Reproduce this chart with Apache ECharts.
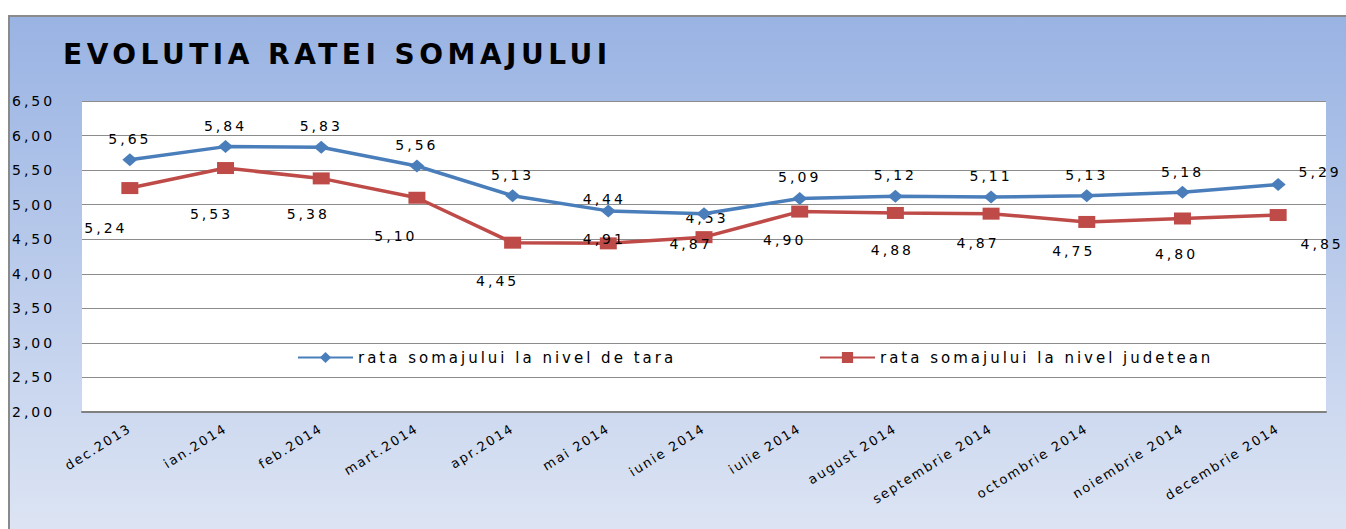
<!DOCTYPE html>
<html>
<head>
<meta charset="utf-8">
<title>Evolutia ratei somajului</title>
<script src="https://cdn.jsdelivr.net/npm/echarts@6/dist/echarts.min.js"></script>
<style>
  html, body { margin: 0; padding: 0; background: #fff; }
  .wrap { position: relative; width: 1346px; height: 529px; overflow: hidden; }
  /* fundal cu degrade ca in Excel */
  .bg {
    position: absolute; left: 8px; top: 15px; width: 1400px; height: 560px;
    border-left: 2px solid #8a8a8a; border-top: 2px solid #8a8a8a;
    background: linear-gradient(to bottom, #99b3e3 0%, #e3e9f5 100%);
  }
  #main { position: absolute; left: 0; top: 0; width: 1346px; height: 529px; }
  #main svg text { letter-spacing: 3px; }
  #main svg text[style*="13px"] { letter-spacing: 1.8px; }
  #main svg text[style*="bold"] { letter-spacing: 4.5px; }
</style>
</head>
<body>
<div class="wrap">
  <div class="bg"></div>
  <div id="main"></div>
</div>
<script>
// luni
var luni = ['dec.2013', 'ian.2014', 'feb.2014', 'mart.2014', 'apr.2014', 'mai 2014', 'iunie 2014',
  'iulie 2014', 'august 2014', 'septembrie 2014', 'octombrie 2014', 'noiembrie 2014', 'decembrie 2014']
// rata somajului la nivel de tara
var rataTara = [5.65, 5.84, 5.83, 5.56, 5.13, 4.91, 4.87, 5.09, 5.12, 5.11, 5.13, 5.18, 5.29]
// rata somajului la nivel judetean
var rataJudet = [5.24, 5.53, 5.38, 5.10, 4.45, 4.44, 4.53, 4.90, 4.88, 4.87, 4.75, 4.80, 4.85]

// pozitia etichetelor fata de punct (mutate manual ca in original)
var offTara = [[0, -21], [0, -21], [0, -21], [0, -21], [0, -21], [-4, 28], [-13, 30],
  [0, -21], [0, -21], [0, -21], [0, -21], [0, -20], [42, -13]]
var offJudet = [[-24, 40], [-14, 46], [-13, 36], [-21, 38], [-15, 38], [-4, -44], [3, -19],
  [-15, 28], [-3, 37], [-13, 29], [-13, 29], [-6, 36], [44, 29]]

var FONT = 'DejaVu Sans'

function fmt(v) {
  return Number(v).toFixed(2).replace('.', ',')
}

function puncte(vals, offs) {
  return vals.map(function (v, i) {
    return { value: v, label: { offset: offs[i] } }
  })
}

var chart = echarts.init(document.getElementById('main'), null, { renderer: 'svg' })

var option = {
  backgroundColor: 'transparent',
  animation: false,
  title: {
    text: 'EVOLUTIA RATEI SOMAJULUI',
    left: 63,
    top: 40,
    padding: 0,
    textStyle: { fontFamily: FONT, fontSize: 28, fontWeight: 'bold', color: '#000' }
  },
  legend: [
    {
      data: ['rata somajului la nivel de tara'],
      left: 292,
      top: 345,
      itemWidth: 55,
      itemHeight: 14,
      textStyle: { fontFamily: FONT, fontSize: 15, color: '#000' }
    },
    {
      data: ['rata somajului la nivel judetean'],
      left: 814,
      top: 345,
      itemWidth: 55,
      itemHeight: 14,
      textStyle: { fontFamily: FONT, fontSize: 15, color: '#000' }
    }
  ],
  grid: {
    left: 82,
    right: 20,
    top: 101,
    bottom: 117,
    show: true,
    backgroundColor: '#fff',
    borderWidth: 0
  },
  xAxis: {
    type: 'category',
    data: luni,
    boundaryGap: true,
    axisLine: { lineStyle: { color: '#808080', width: 2 } },
    axisTick: { show: false },
    axisLabel: {
      rotate: 32,
      interval: 0,
      margin: 15,
      fontFamily: FONT,
      fontSize: 13,
      color: '#000'
    }
  },
  yAxis: {
    type: 'value',
    min: 2,
    max: 6.5,
    interval: 0.5,
    axisLine: { show: false },
    axisTick: { show: false },
    splitLine: { lineStyle: { color: '#8c8c8c', width: 1 } },
    axisLabel: {
      align: 'left',
      margin: 70,
      fontFamily: FONT,
      fontSize: 14,
      color: '#000',
      formatter: fmt
    }
  },
  series: [
    {
      name: 'rata somajului la nivel de tara',
      type: 'line',
      data: puncte(rataTara, offTara),
      symbol: 'diamond',
      symbolSize: [15, 13],
      lineStyle: { color: '#4a7ebb', width: 3.5 },
      itemStyle: { color: '#4a7ebb' },
      label: {
        show: true,
        position: 'inside',
        fontFamily: FONT,
        fontSize: 14,
        color: '#000',
        formatter: function (p) { return fmt(p.value) }
      },
      z: 3
    },
    {
      name: 'rata somajului la nivel judetean',
      type: 'line',
      data: puncte(rataJudet, offJudet),
      symbol: 'rect',
      symbolSize: [17, 12],
      lineStyle: { color: '#be4b48', width: 3.5 },
      itemStyle: { color: '#be4b48' },
      label: {
        show: true,
        position: 'inside',
        fontFamily: FONT,
        fontSize: 14,
        color: '#000',
        formatter: function (p) { return fmt(p.value) }
      },
      z: 2
    }
  ]
}

chart.setOption(option)
</script>
</body>
</html>
